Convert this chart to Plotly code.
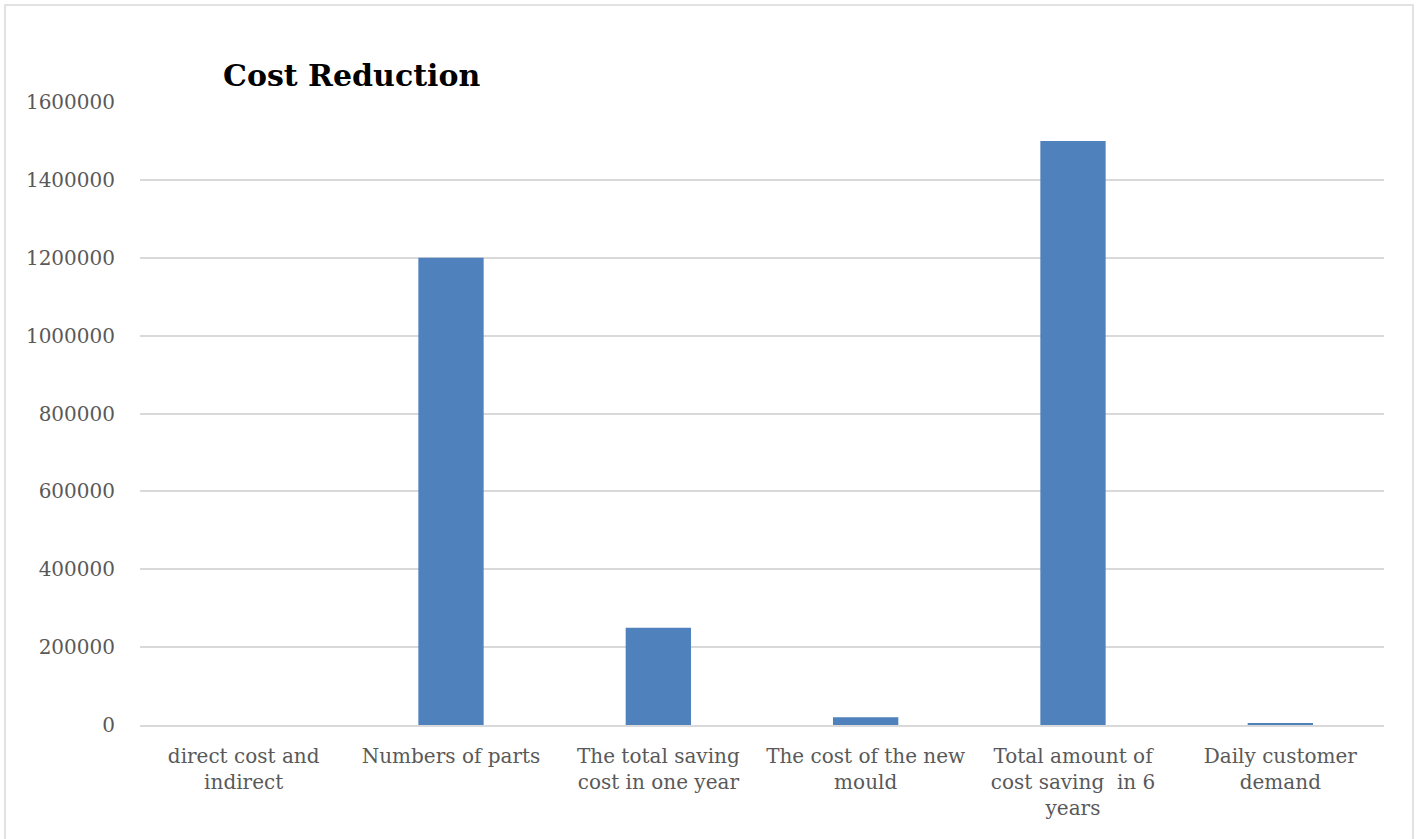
import plotly.graph_objects as go

# Category labels (line breaks as shown under the axis)
categories = [
    "direct cost and<br>indirect",
    "Numbers of parts",
    "The total saving<br>cost in one year",
    "The cost of the new<br>mould",
    "Total amount of<br>cost saving  in 6<br>years",
    "Daily customer<br>demand",
]
values = [5, 1200000, 250000, 20000, 1500000, 4000]
y_ticks = [0, 200000, 400000, 600000, 800000, 1000000, 1200000, 1400000, 1600000]

FONT = "DejaVu Serif"
BAR_COLOR = "#4F81BD"
GRID = "#D9D9D9"
TEXT = "#595959"

fig = go.Figure(
    go.Bar(
        x=categories,
        y=values,
        marker=dict(color=BAR_COLOR, line=dict(width=0)),
        width=0.315,
    )
)

W, H = 1421, 839
ml, mr, mt, mb = 140, 37, 102, 114
pw, ph = W - ml - mr, H - mt - mb

def px_x(x):
    return (x - ml) / pw

def px_y(y):
    return (H - mb - y) / ph

fig.update_layout(
    width=W,
    height=H,
    margin=dict(l=ml, r=mr, t=mt, b=mb),
    paper_bgcolor="white",
    plot_bgcolor="white",
    showlegend=False,
    font=dict(family=FONT, color=TEXT, size=20),
    annotations=[
        dict(
            text="<b>Cost Reduction</b>",
            xref="paper", yref="paper",
            x=px_x(221), y=px_y(75),
            xanchor="left", yanchor="middle",
            showarrow=False,
            font=dict(family=FONT, size=30, color="black"),
        )
    ],
    shapes=[
        dict(
            type="rect", xref="paper", yref="paper",
            x0=px_x(5), x1=px_x(1413), y0=px_y(850), y1=px_y(5),
            line=dict(color=GRID, width=1.5), fillcolor="rgba(0,0,0,0)",
            layer="below",
        )
    ],
)

fig.update_xaxes(
    showgrid=False,
    showline=True,
    linecolor=GRID,
    linewidth=1.5,
    ticks="outside",
    ticklen=12,
    tickcolor="rgba(0,0,0,0)",
    tickfont=dict(family=FONT, size=20, color=TEXT),
)
fig.update_yaxes(
    range=[0, 1600000],
    tickvals=y_ticks,
    ticktext=[str(v) for v in y_ticks],
    showgrid=True,
    gridcolor=GRID,
    gridwidth=1.5,
    zeroline=False,
    showline=False,
    ticks="outside",
    ticklen=20,
    tickcolor="rgba(0,0,0,0)",
    tickfont=dict(family=FONT, size=20, color=TEXT),
)

fig.write_html("out.html")
